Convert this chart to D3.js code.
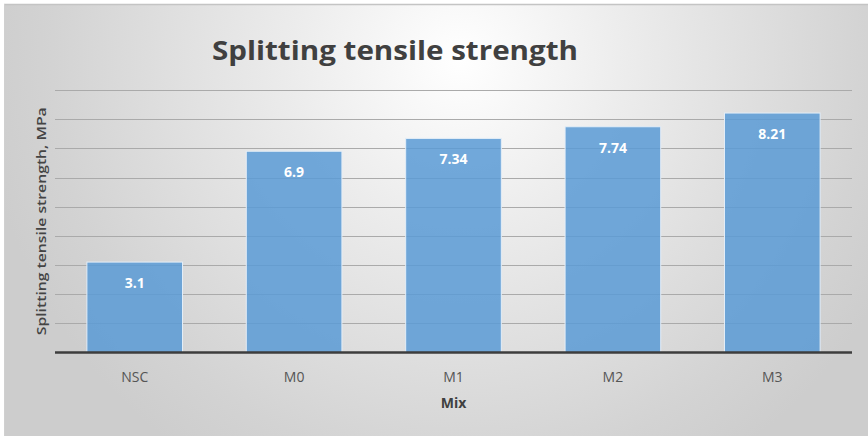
<!DOCTYPE html>
<html>
<head>
<meta charset="utf-8">
<script src="https://cdn.jsdelivr.net/npm/d3@7"></script>
<style>
  html, body { margin: 0; padding: 0; background: #ffffff; }
  svg { display: block; }
</style>
</head>
<body>
<svg id="chart" width="868" height="436"></svg>
<script>
// Splitting tensile strength per mix (MPa)
const categories = ["NSC", "M0", "M1", "M2", "M3"];
const values = [3.1, 6.9, 7.34, 7.74, 8.21];
const valueLabels = ["3.1", "6.9", "7.34", "7.74", "8.21"];
const yTicks = [0, 1, 2, 3, 4, 5, 6, 7, 8, 9];

const W = 868, H = 436;
const margin = { left: 55, right: 16, top: 90, bottom: 83.5 };
const svg = d3.select("#chart");

// Chart area background: soft radial gray fade
const defs = svg.append("defs");
const grad = defs.append("radialGradient")
  .attr("id", "bg").attr("gradientUnits", "userSpaceOnUse")
  .attr("cx", 460).attr("cy", 60).attr("r", 480)
  .attr("fx", 460).attr("fy", 60);
grad.append("stop").attr("offset", "0%").attr("stop-color", "#ffffff");
grad.append("stop").attr("offset", "35%").attr("stop-color", "#ececec");
grad.append("stop").attr("offset", "85%").attr("stop-color", "#d3d3d3");
grad.append("stop").attr("offset", "100%").attr("stop-color", "#cdcdcd");

svg.append("rect").attr("x", 4).attr("y", 4).attr("width", W - 4).attr("height", H - 4)
  .attr("fill", "url(#bg)");
svg.append("line").attr("x1", 4).attr("x2", W).attr("y1", 4.5).attr("y2", 4.5)
  .attr("stroke", "#c4c4c4").attr("stroke-width", 1.5);
svg.append("line").attr("x1", 4.5).attr("x2", 4.5).attr("y1", 4).attr("y2", H)
  .attr("stroke", "#d0d0d0").attr("stroke-width", 1);

const x = d3.scaleBand()
  .domain(categories)
  .range([margin.left, W - margin.right])
  .paddingInner(0.4)
  .paddingOuter(0.2);

const y = d3.scaleLinear()
  .domain([0, 9])
  .range([H - margin.bottom, margin.top]);

// Horizontal gridlines
svg.append("g")
  .selectAll("line")
  .data(yTicks.slice(1))
  .join("line")
  .attr("x1", margin.left).attr("x2", W - margin.right)
  .attr("y1", d => Math.round(y(d)) + 0.5).attr("y2", d => Math.round(y(d)) + 0.5)
  .attr("stroke", "#aaaaaa").attr("stroke-width", 1.1);

// Bars
svg.append("g")
  .selectAll("rect")
  .data(values)
  .join("rect")
  .attr("x", (d, i) => x(categories[i]))
  .attr("y", d => y(d))
  .attr("width", x.bandwidth())
  .attr("height", d => y(0) - y(d))
  .attr("fill", "#5b9bd5")
  .attr("fill-opacity", 0.86)
  .attr("stroke", "#e4eef8")
  .attr("stroke-width", 1);

// Value labels inside bar tops
svg.append("g")
  .selectAll("text")
  .data(values)
  .join("text")
  .attr("x", (d, i) => x(categories[i]) + x.bandwidth() / 2)
  .attr("y", d => y(d) + 26)
  .attr("text-anchor", "middle")
  .attr("font-family", "'Open Sans', sans-serif")
  .attr("font-weight", "bold")
  .attr("font-size", 14)
  .attr("fill", "#ffffff")
  .text((d, i) => valueLabels[i]);

// Category axis
const xAxis = svg.append("g")
  .attr("transform", `translate(0,${y(0)})`)
  .call(d3.axisBottom(x).tickSize(0).tickPadding(20));
xAxis.select(".domain")
  .attr("d", `M${margin.left},0H${W - margin.right}`)
  .attr("stroke", "#3d3d3d").attr("stroke-width", 2.5);
xAxis.selectAll("text")
  .attr("font-family", "'Open Sans', sans-serif")
  .attr("font-size", 14)
  .attr("fill", "#555555");

// Titles
svg.append("text")
  .attr("x", 395).attr("y", 60)
  .attr("text-anchor", "middle")
  .attr("font-family", "'Open Sans', sans-serif")
  .attr("font-weight", "bold")
  .attr("font-size", 27)
  .attr("fill", "#404040")
  .attr("textLength", 366)
  .attr("lengthAdjust", "spacingAndGlyphs")
  .text("Splitting tensile strength");

svg.append("text")
  .attr("transform", `translate(46,${(y(0) + y(9)) / 2}) rotate(-90)`)
  .attr("text-anchor", "middle")
  .attr("font-family", "'Open Sans', sans-serif")
  .attr("font-weight", 600)
  .attr("font-size", 13)
  .attr("fill", "#444444")
  .attr("textLength", 228)
  .attr("lengthAdjust", "spacingAndGlyphs")
  .text("Splitting tensile strength, MPa");

svg.append("text")
  .attr("x", (margin.left + W - margin.right) / 2)
  .attr("y", 408)
  .attr("text-anchor", "middle")
  .attr("font-family", "'Open Sans', sans-serif")
  .attr("font-weight", "bold")
  .attr("font-size", 14)
  .attr("fill", "#404040")
  .text("Mix");
</script>
</body>
</html>
